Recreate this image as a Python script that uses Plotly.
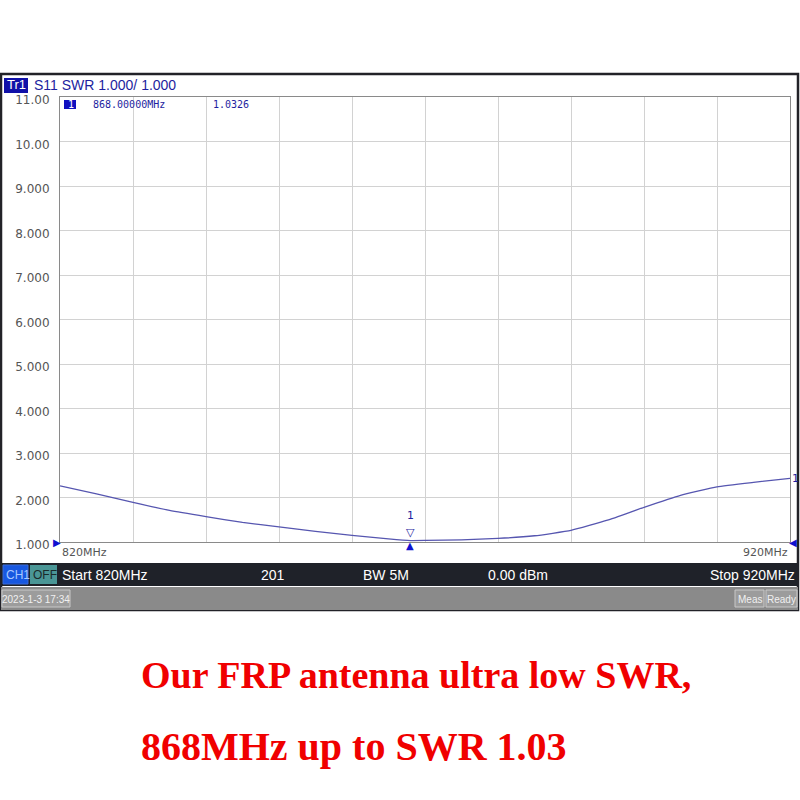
import plotly.graph_objects as go

# ---- data ----
freq_mhz = [820, 825, 830, 835, 840, 845, 850, 855, 860, 865, 868, 870, 875, 880, 885,
            890, 895, 900, 905, 910, 915, 920]
swr = [2.26, 2.08, 1.89, 1.71, 1.57, 1.44, 1.34, 1.24, 1.15, 1.07, 1.033, 1.035, 1.05,
       1.08, 1.14, 1.26, 1.49, 1.78, 2.05, 2.24, 2.34, 2.43]
y_tick_vals = [1, 2, 3, 4, 5, 6, 7, 8, 9, 10, 11]
y_tick_text = ["1.000", "2.000", "3.000", "4.000", "5.000", "6.000", "7.000", "8.000",
               "9.000", "10.00", "11.00"]
marker_freq = 868.0
marker_swr = 1.0326
start_mhz = 820
stop_mhz = 920
points = 201

# ---- geometry helpers (pixel -> paper) ----
L, R, T, B = 60, 790, 97, 542
W, H = R - L, B - T


def px(x):
    return (x - L) / W


def py(y):
    return (B - y) / H


NAVY = "#1e1ea0"
TRACE = "#5656b0"
SANS = "Liberation Sans"

fig = go.Figure()
fig.add_trace(go.Scatter(x=freq_mhz, y=swr, mode="lines",
                         line=dict(color=TRACE, width=1.3, shape="spline", smoothing=0.4),
                         hoverinfo="skip", showlegend=False))

shapes = []
# outer instrument frame
shapes.append(dict(type="rect", xref="paper", yref="paper", x0=px(1), x1=px(798),
                   y0=py(610), y1=py(74), line=dict(color="#222228", width=2.5),
                   fillcolor="rgba(0,0,0,0)", layer="below"))
# dark status bar
shapes.append(dict(type="rect", xref="paper", yref="paper", x0=px(1), x1=px(798),
                   y0=py(586), y1=py(563), line=dict(width=0), fillcolor="#1f2229"))
# CH1 / OFF boxes
shapes.append(dict(type="rect", xref="paper", yref="paper", x0=px(3), x1=px(28),
                   y0=py(584), y1=py(565), line=dict(color="#3a6ad8", width=1), fillcolor="#1858e0"))
shapes.append(dict(type="rect", xref="paper", yref="paper", x0=px(30), x1=px(57),
                   y0=py(584), y1=py(565), line=dict(width=0), fillcolor="#4a9696"))
# grey bottom bar
shapes.append(dict(type="rect", xref="paper", yref="paper", x0=px(1), x1=px(798),
                   y0=py(610), y1=py(587), line=dict(width=0), fillcolor="#8a8a8a"))
for x0, x1 in [(2, 70), (735, 764), (766, 797)]:
    shapes.append(dict(type="rect", xref="paper", yref="paper", x0=px(x0), x1=px(x1),
                       y0=py(607), y1=py(590), line=dict(color="#c8c8c8", width=1),
                       fillcolor="#9c9c9c"))
# Tr1 box
shapes.append(dict(type="rect", xref="paper", yref="paper", x0=px(4), x1=px(28),
                   y0=py(93), y1=py(78), line=dict(width=0), fillcolor="#1010a8"))
# marker number box in table
shapes.append(dict(type="rect", xref="paper", yref="paper", x0=px(64), x1=px(76),
                   y0=py(109), y1=py(100), line=dict(width=0), fillcolor="#1010c0"))

ann = []


def txt(x, y, s, size=12, color="#000", anchor="left", family=SANS, bold=False):
    ann.append(dict(xref="paper", yref="paper", x=px(x), y=py(y), text=("<b>%s</b>" % s) if bold else s,
                    showarrow=False, xanchor=anchor, yanchor="middle",
                    font=dict(size=size, color=color, family=family)))


txt(5, 85, "Tr1", 13, "white")
txt(32, 85, "S11 SWR 1.000/ 1.000", 14, NAVY)
txt(66, 104, "1", 10, "white", family="DejaVu Sans Mono")
txt(91, 105, "%.5fMHz" % marker_freq, 10, NAVY, family="DejaVu Sans Mono")
txt(211, 105, "%.4f" % marker_swr, 10, NAVY, family="DejaVu Sans Mono")
txt(60, 552, "%dMHz" % start_mhz, 11, "#555", family="DejaVu Sans")
txt(790, 552, "%dMHz" % stop_mhz, 11, "#555", anchor="right", family="DejaVu Sans")
txt(4, 575, "CH1", 12, "#a8c8ff")
txt(31, 575, "OFF", 12, "#1a2a2a")
txt(60, 575, "Start %dMHz" % start_mhz, 14, "white")
txt(273, 575, "%d" % points, 14, "white", anchor="center")
txt(386, 575, "BW 5M", 14, "white", anchor="center")
txt(518, 575, "0.00 dBm", 14, "white", anchor="center")
txt(797, 575, "Stop %dMHz" % stop_mhz, 14, "white", anchor="right")
txt(36, 599, "2023-1-3 17:34", 10, "#f0f0f0", anchor="center")
txt(749.5, 599, "Meas", 10, "#f0f0f0", anchor="center")
txt(781.5, 599, "Ready", 10, "#f0f0f0", anchor="center")
txt(139, 675, "Our FRP antenna ultra low SWR,", 38, "#f00000", family="Liberation Serif", bold=True)
txt(139, 746, "868MHz up to SWR 1.03", 40, "#f00000", family="Liberation Serif", bold=True)

# marker glyphs at the marker frequency
ann.append(dict(xref="x", yref="y", x=marker_freq, y=marker_swr, text="▽", showarrow=False,
                yshift=8, font=dict(size=11, color=NAVY, family="DejaVu Sans")))
ann.append(dict(xref="x", yref="y", x=marker_freq, y=marker_swr, text="1", showarrow=False,
                yshift=25, font=dict(size=11, color=NAVY, family="DejaVu Sans")))
ann.append(dict(xref="x", yref="y", x=marker_freq, y=1, text="▲", showarrow=False,
                yshift=-3, font=dict(size=10, color="#1010d0", family="DejaVu Sans")))
# reference-level arrows and trace end label
ann.append(dict(xref="x", yref="y", x=start_mhz, y=1, text="▶", showarrow=False, xshift=-3,
                font=dict(size=10, color="#1010d0", family="DejaVu Sans")))
ann.append(dict(xref="x", yref="y", x=stop_mhz, y=1, text="◀", showarrow=False, xshift=3,
                font=dict(size=10, color="#1010d0", family="DejaVu Sans")))
ann.append(dict(xref="x", yref="y", x=stop_mhz, y=swr[-1], text="1", showarrow=False,
                xanchor="left", xshift=0, font=dict(size=11, color=NAVY, family="DejaVu Sans")))

fig.update_layout(
    width=800, height=800,
    margin=dict(l=L, r=800 - R, t=T, b=800 - B),
    paper_bgcolor="white", plot_bgcolor="white",
    shapes=shapes, annotations=ann, showlegend=False,
    xaxis=dict(range=[start_mhz, stop_mhz], dtick=10, tick0=start_mhz, showticklabels=False,
               showgrid=True, gridcolor="#d2d2d2", gridwidth=1, zeroline=False,
               showline=True, mirror=True, linecolor="#8a8a8a", linewidth=1, ticks=""),
    yaxis=dict(range=[1, 11], tickvals=y_tick_vals, ticktext=y_tick_text,
               showgrid=True, gridcolor="#d2d2d2", gridwidth=1, zeroline=False,
               showline=True, mirror=True, linecolor="#8a8a8a", linewidth=1, ticks="",
               ticklabelstandoff=7, ticklabelshift=3,
               tickfont=dict(size=12, color="#555", family="DejaVu Sans")),
)

fig.write_html("out.html", config={"displayModeBar": False},
               post_script="document.body.style.margin='0';document.body.style.overflow='hidden';")
